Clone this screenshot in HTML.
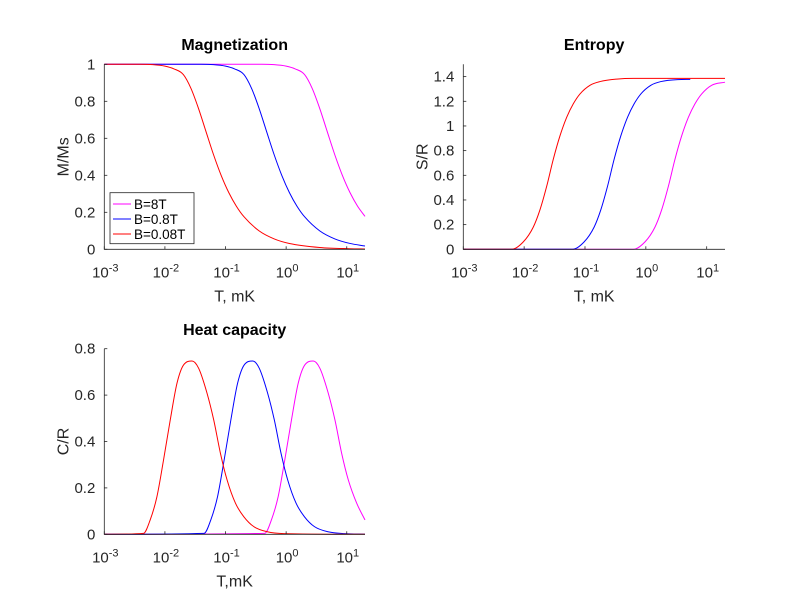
<!DOCTYPE html>
<html><head><meta charset="utf-8"><style>
body{margin:0;background:#fff;}
svg text{font-family:"Liberation Sans",sans-serif;}
</style></head><body>
<svg id="fig" width="800" height="600" viewBox="0 0 800 600">
<rect width="800" height="600" fill="#fff"/>
</svg>
<script>
// ---- data (log10 of T in mK, and values) ----
const xTickExps = [-3, -2, -1, 0, 1];
const magTicks = [0, 0.2, 0.4, 0.6, 0.8, 1];
const entTicks = [0, 0.2, 0.4, 0.6, 0.8, 1, 1.2, 1.4];
const heatTicks = [0, 0.2, 0.4, 0.6, 0.8];
const seriesNames = ["B=8T", "B=0.8T", "B=0.08T"];

const magLogTRed = [-3,-2.4,-2.2,-2.0,-1.85,-1.696,-1.571,-1.446,-1.321,-1.196,-1.071,-0.946,-0.821,-0.696,-0.446,-0.196,0.054,0.554,1.054,1.301];
const magRed = [1,1,0.998,0.99,0.975,0.9445,0.8704,0.7616,0.6351,0.5096,0.3986,0.3062,0.2328,0.1761,0.0997,0.0562,0.0316,0.01,0.0032,0.0018];
const magLogTBlue = [-3,-1.4,-1.2,-1.0,-0.85,-0.696,-0.571,-0.446,-0.321,-0.196,-0.071,0.054,0.179,0.304,0.554,0.804,1.054,1.301];
const magBlue = [1,1,0.998,0.99,0.975,0.9445,0.8704,0.7616,0.6351,0.5096,0.3986,0.3062,0.2328,0.1761,0.0997,0.0562,0.0316,0.0178];
const magLogTMag = [-3,-0.4,-0.2,0.0,0.15,0.304,0.429,0.554,0.679,0.804,0.929,1.054,1.179,1.301];
const magMag = [1,1,0.998,0.99,0.975,0.9445,0.8704,0.7616,0.6351,0.5096,0.3986,0.3062,0.2328,0.178];

const entLogTRed = [-3,-2.205,-2.014,-1.85,-1.74,-1.63,-1.521,-1.411,-1.301,-1.192,-1.082,-0.918,-0.753,-0.479,-0.206,1.301];
const entRed = [0,0,0.06,0.18,0.32,0.51,0.73,0.92,1.07,1.18,1.26,1.33,1.36,1.38,1.386,1.386];
const entLogTBlue = [-3,-1.205,-1.014,-0.85,-0.74,-0.63,-0.521,-0.411,-0.301,-0.192,-0.082,0.082,0.247,0.521,0.73];
const entBlue = [0,0,0.06,0.18,0.32,0.51,0.73,0.92,1.07,1.18,1.26,1.33,1.36,1.376,1.378];
const entLogTMag = [-3,-0.205,-0.014,0.15,0.26,0.37,0.479,0.589,0.699,0.808,0.918,1.082,1.301];
const entMag = [0,0,0.06,0.18,0.32,0.51,0.73,0.92,1.07,1.18,1.26,1.33,1.355];

const heatLogTRed = [-3,-2.354,-2.243,-2.132,-2.023,-1.912,-1.801,-1.692,-1.553,-1.444,-1.305,-1.195,-1.084,-0.974,-0.836,-0.699,-0.533,-0.311,-0.036,1.301];
const heatRed = [0,0.004,0.062,0.162,0.32,0.493,0.651,0.73,0.747,0.716,0.608,0.493,0.349,0.234,0.134,0.076,0.033,0.011,0.003,0];
const heatLogTBlue = [-3,-1.354,-1.243,-1.132,-1.023,-0.912,-0.801,-0.692,-0.553,-0.444,-0.305,-0.195,-0.084,0.026,0.164,0.301,0.467,0.689,0.964,1.301];
const heatBlue = [0,0.004,0.062,0.162,0.32,0.493,0.651,0.73,0.747,0.716,0.608,0.493,0.349,0.234,0.134,0.076,0.033,0.011,0.003,0.001];
const heatLogTMag = [-3,-0.354,-0.243,-0.132,-0.023,0.088,0.199,0.308,0.447,0.556,0.695,0.805,0.916,1.026,1.164,1.301];
const heatMag = [0,0.004,0.062,0.162,0.32,0.493,0.651,0.73,0.747,0.716,0.608,0.493,0.349,0.234,0.134,0.062];

const NS = "http://www.w3.org/2000/svg";
const svg = document.getElementById('fig');
function el(tag, attrs, parent){const e=document.createElementNS(NS,tag);for(const k in attrs)e.setAttribute(k,attrs[k]);(parent||svg).appendChild(e);return e;}

const XMIN=-3, XMAX=Math.log10(20);
function monoPath(px,py){
  const n=px.length; if(n<2) return '';
  const d=[],m=new Array(n);
  for(let i=0;i<n-1;i++) d.push((py[i+1]-py[i])/(px[i+1]-px[i]||1e-9));
  m[0]=d[0]; m[n-1]=d[n-2];
  for(let i=1;i<n-1;i++){ m[i]=(d[i-1]*d[i]<=0)?0:(d[i-1]+d[i])/2; }
  for(let i=0;i<n-1;i++){ if(d[i]===0){m[i]=0;m[i+1]=0;continue;}
    const a=m[i]/d[i],b=m[i+1]/d[i],s=a*a+b*b; if(s>9){const t=3/Math.sqrt(s);m[i]=t*a*d[i];m[i+1]=t*b*d[i];}}
  let p='M'+px[0].toFixed(2)+','+py[0].toFixed(2);
  for(let i=0;i<n-1;i++){const h=px[i+1]-px[i];
    p+=' C'+(px[i]+h/3).toFixed(2)+','+(py[i]+m[i]*h/3).toFixed(2)+' '+(px[i+1]-h/3).toFixed(2)+','+(py[i+1]-m[i+1]*h/3).toFixed(2)+' '+px[i+1].toFixed(2)+','+py[i+1].toFixed(2);}
  return p;
}

function makeAxes(cfg){
  const g=el('g',{});
  
  
  const sx=v=>cfg.x0+(v-XMIN)/(XMAX-XMIN)*(cfg.x1-cfg.x0);
  const sy=v=>cfg.y1-(v/cfg.ymax)*(cfg.y1-cfg.y0);
  cfg.series.forEach(s=>{
    const px=s.t.map(sx), py=s.v.map(sy);
    const p=el('path',{d:monoPath(px,py),fill:'none',stroke:s.color,'stroke-width':1},g);
    
    
  });
  const ax=el('path',{d:`M${cfg.x0},${cfg.y0} L${cfg.x0},${cfg.y1} L${cfg.x1},${cfg.y1}`,fill:'none',stroke:'#262626','stroke-width':0.8},g);
  
  
  xTickExps.forEach(e=>{
    const x=sx(e);
    el('line',{x1:x,x2:x,y1:cfg.y1,y2:cfg.y1-3,stroke:'#262626','stroke-width':0.8},g);
    const t=el('text',{x:x+1,y:cfg.y1+28,'font-size':15,fill:'#262626','text-anchor':'middle'},g);
    
    
    t.appendChild(document.createTextNode('10'));
    const sup=el('tspan',{dy:-6,'font-size':11},t); sup.textContent=String(e);
  });
  cfg.ticks.forEach(v=>{
    const y=sy(v);
    el('line',{x1:cfg.x0,x2:cfg.x0+3,y1:y,y2:y,stroke:'#262626','stroke-width':0.8},g);
    const t=el('text',{x:cfg.x0-9,y:y+5,'font-size':15,fill:'#262626','text-anchor':'end'},g);
    
    
    t.textContent=String(v);
  });
  const xl=el('text',{x:(cfg.x0+cfg.x1)/2,y:cfg.y1+52,'font-size':16,fill:'#262626','text-anchor':'middle'},g);
  
  
  xl.textContent=cfg.xlabel;
  const yc=(cfg.y0+cfg.y1)/2;
  const yl=el('text',{x:cfg.x0-36,y:yc,'font-size':16,fill:'#262626','text-anchor':'middle',transform:`rotate(-90 ${cfg.x0-36} ${yc})`},g);
  
  
  yl.textContent=cfg.ylabel;
  const tt=el('text',{x:(cfg.x0+cfg.x1)/2,y:cfg.tTop,'font-size':16,'font-weight':'bold',fill:'#000','text-anchor':'middle'},g);
  
  
  tt.textContent=cfg.title;
  return g;
}

makeAxes({name:'magnetization-chart',x0:104.3,x1:365,y0:64.3,y1:249.3,ymax:1,ticks:magTicks,
  xlabel:'T, mK',ylabel:'M/Ms',title:'Magnetization',tTop:50,
  series:[{name:'magnetization-8T',t:magLogTMag,v:magMag,color:'#ff00ff'},
          {name:'magnetization-0.8T',t:magLogTBlue,v:magBlue,color:'#0000ff'},
          {name:'magnetization-0.08T',t:magLogTRed,v:magRed,color:'#ff0000'}]});
makeAxes({name:'entropy-chart',x0:463.3,x1:725,y0:64.3,y1:249.3,ymax:1.5,ticks:entTicks,
  xlabel:'T, mK',ylabel:'S/R',title:'Entropy',tTop:50,
  series:[{name:'entropy-8T',t:entLogTMag,v:entMag,color:'#ff00ff'},
          {name:'entropy-0.8T',t:entLogTBlue,v:entBlue,color:'#0000ff'},
          {name:'entropy-0.08T',t:entLogTRed,v:entRed,color:'#ff0000'}]});
makeAxes({name:'heat-capacity-chart',x0:104.3,x1:365,y0:348.7,y1:534.3,ymax:0.8,ticks:heatTicks,
  xlabel:'T,mK',ylabel:'C/R',title:'Heat capacity',tTop:335,
  series:[{name:'heat-capacity-8T',t:heatLogTMag,v:heatMag,color:'#ff00ff'},
          {name:'heat-capacity-0.8T',t:heatLogTBlue,v:heatBlue,color:'#0000ff'},
          {name:'heat-capacity-0.08T',t:heatLogTRed,v:heatRed,color:'#ff0000'}]});

const lg=el('g',{});


el('rect',{x:110,y:192.7,width:84,height:51,fill:'#fff',stroke:'#262626','stroke-width':0.8},lg);
const legColors=['#ff00ff','#0000ff','#ff0000'];
const legY=[204,219,234];
seriesNames.forEach((n,i)=>{
  const e=el('g',{},lg);
  
  
  el('line',{x1:113,x2:131,y1:legY[i],y2:legY[i],stroke:legColors[i],'stroke-width':1},e);
  const t=el('text',{x:134,y:legY[i]+5,'font-size':13.5,fill:'#000'},e);
  t.textContent=n;
});
</script>
</body></html>
